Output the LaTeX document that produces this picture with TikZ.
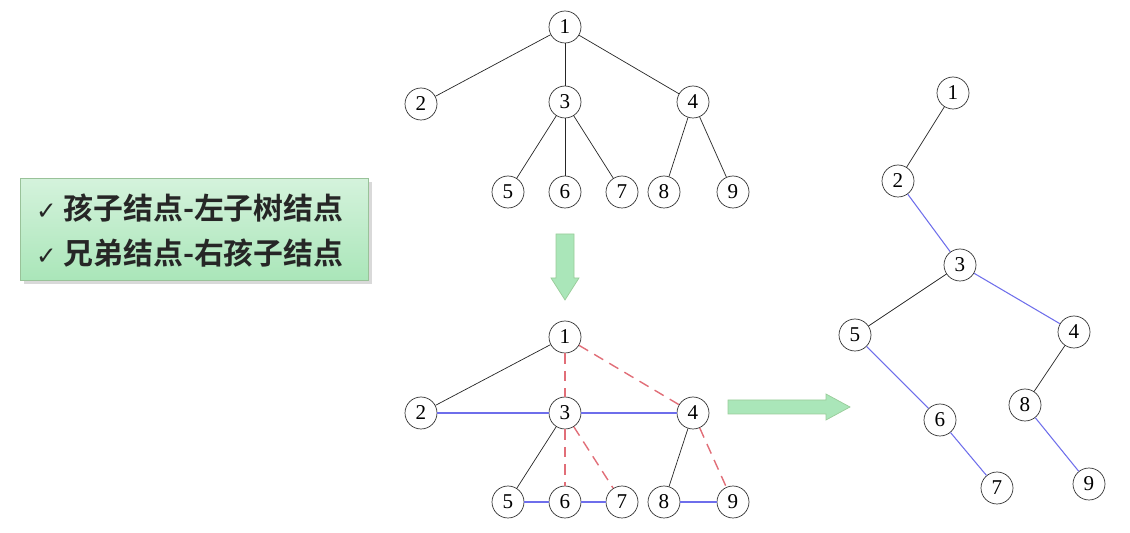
\documentclass[tikz,border=0pt]{standalone}
\usepackage{fontspec}
\setmainfont{Liberation Serif}
\newfontfamily\cjk{Noto Sans CJK SC}[BoldFont={Noto Sans CJK SC Bold}]
\newfontfamily\djv{DejaVu Sans}
\usetikzlibrary{shadows}
\definecolor{rd}{RGB}{225,110,120}
\definecolor{bl}{RGB}{110,110,235}
\definecolor{gfill}{RGB}{170,230,185}
\begin{document}
\begin{tikzpicture}[x=0.02cm,y=-0.02cm,
  nd/.style={circle,draw=black!80,thin,fill=white,minimum size=0.64cm,inner sep=0pt,font=\fontsize{12}{12}\selectfont},
  blk/.style={draw=black!85,thin},
  red/.style={draw=rd,thick,dash pattern=on 6pt off 4pt},
  blu/.style={draw=bl,semithick},
  garrow/.style={draw=green!50!black!40,fill=gfill}]
\useasboundingbox (0,0) rectangle (1130,533);
% box
\node[draw=green!40!black!40,top color=gfill!50,bottom color=gfill,minimum width=6.96cm,minimum height=2.04cm,drop shadow={opacity=0.3}] (box) at (194,229) {};
\node[anchor=west,font=\cjk\bfseries\fontsize{17}{17}\selectfont,text=black!85] (t1) at (30,208) {{\djv\fontsize{14}{14}\selectfont ✓} 孩子结点-左子树结点};
\node[anchor=west,font=\cjk\bfseries\fontsize{17}{17}\selectfont,text=black!85] (t2) at (30,253) {{\djv\fontsize{14}{14}\selectfont ✓} 兄弟结点-右孩子结点};
% top tree
\foreach \n/\x/\y in {1/565/27,2/421/104,3/565/102,4/693/102,5/508/192,6/565/192,7/622/192,8/664/192,9/733/192}
  \node[nd] (a\n) at (\x,\y) {\n};
\foreach \a/\b in {1/2,1/3,1/4,3/5,3/6,3/7,4/8,4/9} \draw[blk] (a\a) -- (a\b);
% bottom tree
\foreach \n/\x/\y in {1/565/337,2/421/413,3/565/413,4/693/413,5/508/502,6/565/502,7/622/502,8/664/502,9/733/502}
  \node[nd] (b\n) at (\x,\y) {\n};
\foreach \a/\b in {1/2,3/5,4/8} \draw[blk] (b\a) -- (b\b);
\foreach \a/\b in {1/3,1/4,3/6,3/7,4/9} \draw[red] (b\a) -- (b\b);
\foreach \a/\b in {2/3,3/4,5/6,6/7,8/9} \draw[blu] (b\a) -- (b\b);
% right tree
\foreach \n/\x/\y in {1/953/93,2/898/181,3/960/265,5/855/335,4/1074/332,6/940/420,8/1025/405,7/997/488,9/1089/484}
  \node[nd] (c\n) at (\x,\y) {\n};
\foreach \a/\b in {1/2,3/5,4/8} \draw[blk] (c\a) -- (c\b);
\foreach \a/\b in {2/3,3/4,5/6,6/7,8/9} \draw[blu] (c\a) -- (c\b);
% arrows
\draw[garrow] (556,234) -- (574,234) -- (574,278) -- (579,278) -- (565,300) -- (551,278) -- (556,278) -- cycle;
\draw[garrow] (728,400) -- (826,400) -- (826,394) -- (850,407) -- (826,420) -- (826,414) -- (728,414) -- cycle;
\end{tikzpicture}
\end{document}
